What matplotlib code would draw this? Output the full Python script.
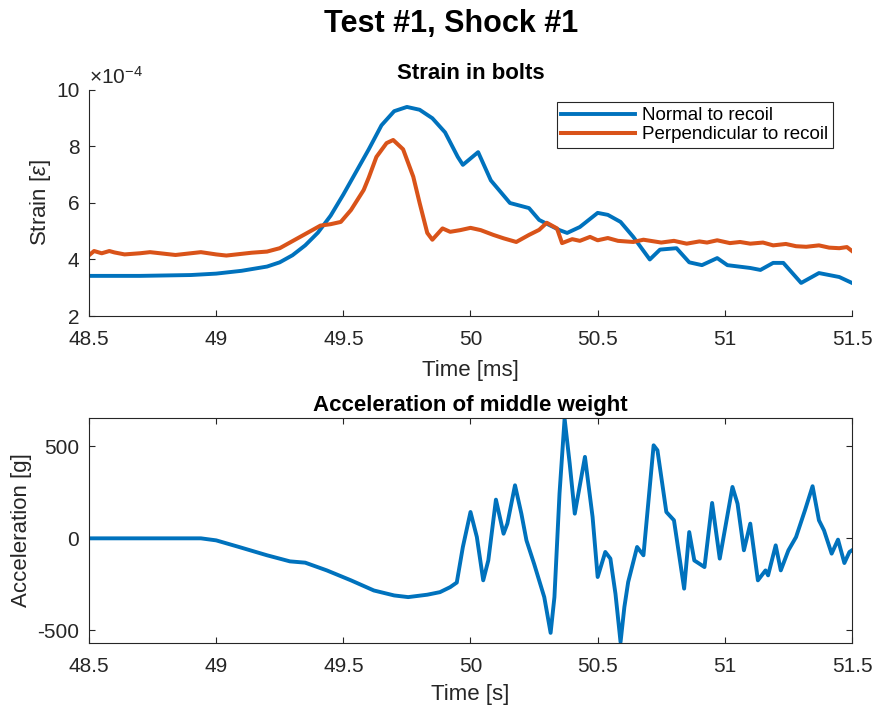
import matplotlib.pyplot as plt

plt.rcParams.update({
    'font.family': ['Liberation Sans', 'DejaVu Sans'],
    'font.size': 15,
    'axes.unicode_minus': False,
    'axes.edgecolor': '#262626',
    'axes.linewidth': 0.8,
    'xtick.color': '#262626',
    'ytick.color': '#262626',
    'xtick.direction': 'in',
    'ytick.direction': 'in',
    'xtick.major.size': 4,
    'ytick.major.size': 4,
    'xtick.major.pad': 10,
    'ytick.major.pad': 7,
    'lines.solid_joinstyle': 'round',
    'mathtext.fontset': 'custom',
    'mathtext.rm': 'Liberation Sans',
    'mathtext.it': 'Liberation Sans:italic',
})

BLUE = '#0072BD'
ORANGE = '#D95319'

# strain, normal to recoil (units of 1e-4)
t_normal = [48.5, 48.7, 48.9, 49.0, 49.1, 49.2, 49.25, 49.3, 49.35, 49.4, 49.45,
            49.5, 49.55, 49.6, 49.65, 49.7, 49.75, 49.8, 49.85, 49.9, 49.95, 49.97,
            50.03, 50.08, 50.155, 50.23, 50.27, 50.35, 50.38, 50.43, 50.5, 50.54,
            50.59, 50.64, 50.705, 50.745, 50.81, 50.86, 50.91, 50.97, 51.01, 51.1,
            51.14, 51.19, 51.23, 51.3, 51.37, 51.45, 51.5]
strain_normal = [3.42, 3.42, 3.45, 3.5, 3.6, 3.75, 3.9, 4.15, 4.5, 4.95, 5.55,
                 6.3, 7.1, 7.9, 8.75, 9.25, 9.4, 9.3, 9.0, 8.5, 7.63, 7.35,
                 7.8, 6.8, 6.0, 5.82, 5.4, 5.04, 4.94, 5.15, 5.65, 5.58,
                 5.33, 4.8, 4.0, 4.35, 4.4, 3.9, 3.8, 4.05, 3.8, 3.7,
                 3.63, 3.88, 3.88, 3.17, 3.52, 3.38, 3.17]

# strain, perpendicular to recoil (units of 1e-4), noisy trace
t_perp = [48.5, 48.52, 48.55, 48.58, 48.6, 48.64, 48.7, 48.74, 48.8, 48.84,
          48.9, 48.94, 49.0, 49.04, 49.1, 49.14, 49.2, 49.25, 49.29, 49.33,
          49.37, 49.41, 49.45, 49.49, 49.53, 49.58, 49.6, 49.63, 49.67, 49.696,
          49.735, 49.775, 49.8, 49.83, 49.85, 49.89, 49.92, 49.96, 50.0, 50.04,
          50.09, 50.13, 50.18, 50.23, 50.27, 50.3, 50.34, 50.36, 50.4, 50.43,
          50.47, 50.5, 50.54, 50.58, 50.64, 50.68, 50.75, 50.8, 50.85, 50.9,
          50.93, 50.97, 51.02, 51.06, 51.1, 51.15, 51.19, 51.24, 51.28, 51.32,
          51.37, 51.41, 51.45, 51.48, 51.5]
strain_perp = [4.15, 4.3, 4.22, 4.3, 4.25, 4.18, 4.22, 4.26, 4.2, 4.16,
               4.22, 4.26, 4.18, 4.14, 4.2, 4.24, 4.28, 4.4, 4.6, 4.8,
               5.0, 5.2, 5.25, 5.33, 5.75, 6.46, 6.9, 7.63, 8.12, 8.23,
               7.9, 6.93, 6.0, 4.94, 4.7, 5.1, 4.98, 5.04, 5.12, 5.04,
               4.87, 4.75, 4.62, 4.87, 5.05, 5.3, 5.1, 4.58, 4.72, 4.66,
               4.8, 4.68, 4.76, 4.66, 4.62, 4.7, 4.6, 4.66, 4.56, 4.64,
               4.6, 4.68, 4.58, 4.62, 4.56, 4.6, 4.5, 4.55, 4.47, 4.45,
               4.5, 4.42, 4.4, 4.44, 4.3]

# acceleration of middle weight [g]
t_acc = [48.5, 48.94, 49.0, 49.09, 49.2, 49.29, 49.35, 49.435, 49.53, 49.62,
         49.7, 49.755, 49.83, 49.88, 49.92, 49.946, 49.97, 50.0, 50.025, 50.05,
         50.07, 50.1, 50.13, 50.145, 50.175, 50.2, 50.22, 50.25, 50.29, 50.315,
         50.33, 50.35, 50.37, 50.39, 50.41, 50.45, 50.48, 50.5, 50.53, 50.55,
         50.57, 50.59, 50.605, 50.62, 50.655, 50.68, 50.72, 50.735, 50.77, 50.8,
         50.84, 50.86, 50.88, 50.92, 50.95, 50.98, 51.03, 51.05, 51.075, 51.1,
         51.13, 51.16, 51.17, 51.2, 51.22, 51.25, 51.28, 51.315, 51.345, 51.37,
         51.39, 51.42, 51.445, 51.47, 51.49, 51.5]
acc = [0, 0, -11, -47, -92, -125, -132, -174, -228, -283,
       -310, -319, -306, -292, -265, -240, -47, 143, 7, -228,
       -120, 210, 25, 80, 288, 134, -11, -138, -319, -513,
       -319, 243, 650, 406, 134, 442, 116, -210, -74, -110,
       -301, -563, -373, -237, -47, -92, 505, 478, 143, 98,
       -273, 34, -120, -156, 192, -110, 279, 188, -65, 80,
       -228, -174, -201, -38, -174, -65, 7, 152, 283, 98,
       43, -83, -7, -134, -74, -65]

xticks = [48.5, 49, 49.5, 50, 50.5, 51, 51.5]
xticklabels = ['48.5', '49', '49.5', '50', '50.5', '51', '51.5']

fig = plt.figure(figsize=(8.76, 7.13), dpi=100)
fig.suptitle('Test #1, Shock #1', fontsize=22, fontweight='bold', x=0.515, y=0.987)

# ---- strain panel
ax1 = fig.add_axes([0.1016, 0.5568, 0.871, 0.317])
ax1.plot(t_normal, strain_normal, color=BLUE, lw=2.8, label='Normal to recoil')
ax1.plot(t_perp, strain_perp, color=ORANGE, lw=2.9, label='Perpendicular to recoil')
ax1.set_xlim(48.5, 51.5)
ax1.set_ylim(2, 10)
ax1.set_xticks(xticks)
ax1.set_xticklabels(xticklabels)
ax1.set_yticks([2, 4, 6, 8, 10])
ax1.spines['top'].set_visible(False)
ax1.spines['right'].set_visible(False)
ax1.set_xlabel('Time [ms]', fontsize=16, color='#262626', labelpad=8)
ax1.set_ylabel(r'Strain [$\epsilon$]', fontsize=16, color='#262626', labelpad=2)
ax1.set_title('Strain in bolts', fontsize=16, fontweight='bold', pad=8)
ax1.text(0.0, 1.01, r'$\times10^{-4}$', transform=ax1.transAxes,
         fontsize=15, color='#262626', ha='left', va='bottom')
leg = ax1.legend(loc='upper right', bbox_to_anchor=(0.975, 0.945), fontsize=13.5,
                 fancybox=False, edgecolor='#262626', framealpha=1,
                 handlelength=3.9, handletextpad=0.4, borderpad=0.25,
                 labelspacing=0.1, borderaxespad=0)
leg.get_frame().set_linewidth(0.8)

# ---- acceleration panel
ax2 = fig.add_axes([0.1016, 0.0982, 0.871, 0.3155])
ax2.plot(t_acc, acc, color=BLUE, lw=2.8)
ax2.set_xlim(48.5, 51.5)
ax2.set_ylim(min(acc) - 5, max(acc) + 3)
ax2.set_xticks(xticks)
ax2.set_xticklabels(xticklabels)
ax2.set_yticks([-500, 0, 500])
ax2.tick_params(top=True, right=True)
ax2.set_xlabel('Time [s]', fontsize=16, color='#262626', labelpad=6)
ax2.set_ylabel('Acceleration [g]', fontsize=16, color='#262626', labelpad=4)
ax2.set_title('Acceleration of middle weight', fontsize=16, fontweight='bold', pad=5)

fig.savefig('out.png', dpi=100)
